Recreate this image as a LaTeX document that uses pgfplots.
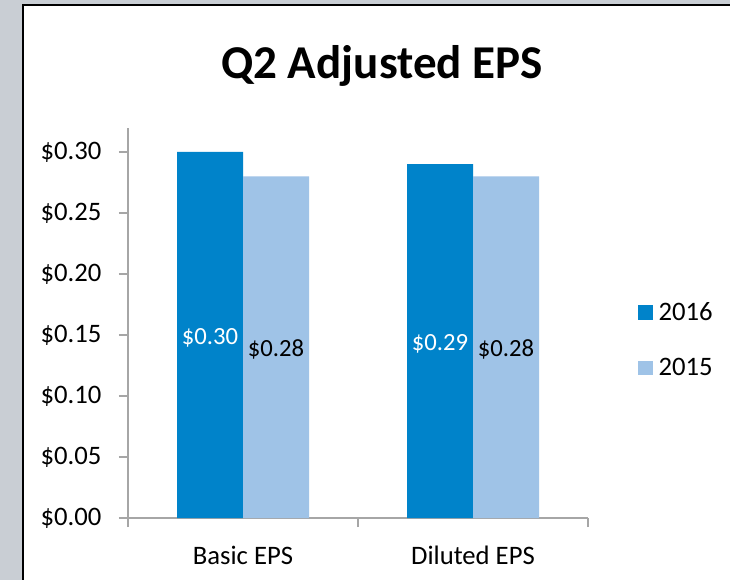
\documentclass[border=0pt]{standalone}
\usepackage{pgfplots}
\pgfplotsset{compat=1.18}
\usepackage{fontspec}
\setmainfont{Carlito}
\definecolor{c2016}{HTML}{0083CA}
\definecolor{c2015}{HTML}{9FC3E7}
\definecolor{bggrey}{HTML}{C9CED4}
\definecolor{axgrey}{HTML}{A6A6A6}
\begin{document}
\begin{tikzpicture}
\useasboundingbox (0,0) rectangle (547.5pt,-435pt);
\fill[bggrey] (0,0) rectangle (547.5pt,-435pt);
\fill[white] (17.25pt,-3.75pt) rectangle (547.5pt,-435pt);
\draw[black,line width=1.5pt] (17.25pt,-440pt) -- (17.25pt,-3.75pt) -- (550pt,-3.75pt);
\node[font=\bfseries\fontsize{35.3}{40}\selectfont, anchor=base, inner sep=0pt] at (286.5pt,-59.25pt) {Q2 Adjusted EPS};
\begin{axis}[
  at={(96pt,-388.5pt)}, anchor=south west,
  scale only axis, width=345pt, height=292.8pt,
  xmin=-0.5, xmax=1.5, ymin=0, ymax=0.32,
  ybar=0pt, bar width=49.5pt,
  axis x line*=bottom, axis y line*=left,
  axis line style={axgrey, line width=0.9pt, -},
  tick align=outside,
  xtick={0,1}, xticklabels={Basic EPS, Diluted EPS},
  major x tick style={draw=none},
  minor xtick={-0.5,0.5,1.5},
  minor tick length=6.75pt,
  minor x tick style={axgrey, line width=0.9pt},
  xticklabel style={anchor=base, yshift=-28pt},
  ytick={0,0.05,0.10,0.15,0.20,0.25,0.30},
  yticklabels={\$0.00,\$0.05,\$0.10,\$0.15,\$0.20,\$0.25,\$0.30},
  major tick length=6.75pt,
  y tick style={axgrey, line width=0.9pt},
  yticklabel style={anchor=east, inner sep=0pt, xshift=-13pt},
  ticklabel style={font=\fontsize{20}{24}\selectfont},
  /pgf/number format/assume math mode=true,
  point meta=explicit symbolic,
  visualization depends on=rawy \as \rawy,
  nodes near coords,
  every node near coord/.append style={anchor=center, font=\fontsize{18.5}{22}\selectfont,
     shift={(axis direction cs:0,-\rawy/2)}, yshift=-2pt},
  legend style={at={(1.1087,0.4560)}, anchor=west, draw=none, fill=none, inner sep=0pt,
     row sep=23pt, font=\fontsize{20}{24}\selectfont,
     nodes={inner sep=2pt},
     /tikz/every odd column/.append style={column sep=2pt}},
  legend cell align=left,
  legend image code/.code={\fill[#1] (0pt,-5.6pt) rectangle (11.25pt,5.6pt);},
  clip=false,
]
\addplot[fill=c2016, draw=none, every node near coord/.append style={text=white}]
  coordinates {(0,0.30) [\$0.30] (1,0.29) [\$0.29]};
\addplot[fill=c2015, draw=none, every node near coord/.append style={text=black}]
  coordinates {(0,0.28) [\$0.28] (1,0.28) [\$0.28]};
\legend{2016,2015}
\end{axis}
\end{tikzpicture}
\end{document}
